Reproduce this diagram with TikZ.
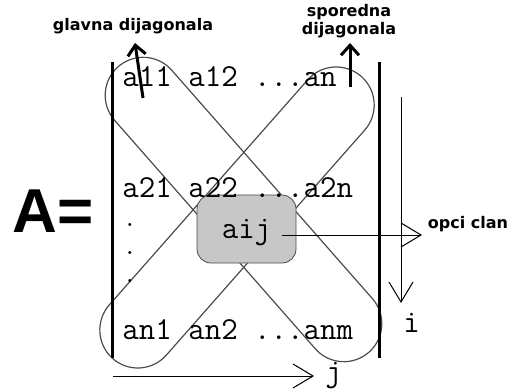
\documentclass[tikz,border=0pt]{standalone}
\usepackage{fontspec}
\newfontfamily\tagfont{DejaVu Sans}
\newfontfamily\bigfont{Liberation Sans}
\usetikzlibrary{arrows.meta,shapes.misc}
\newcommand{\mentry}[4]{\node[entry] (#1) at (#2,#3) {#4};}
\newcommand{\mtag}[4]{\node[tag] (#1) at (#2,#3) {#4};}

\begin{document}
\begin{tikzpicture}[x=0.5pt,y=-0.5pt,
  entry/.style={anchor=base west,inner sep=0pt,font=\ttfamily\fontsize{16}{18}\selectfont},
  tag/.style={inner sep=0pt,align=center,font=\tagfont\bfseries\fontsize{8}{7}\selectfont},
  band/.style={draw=black!70,line width=0.6pt,rounded rectangle,minimum width=190pt,minimum height=38pt,inner sep=0pt},
  bar/.style={line width=1.5pt},
  barb/.style={-{Straight Barb[length=10pt,width=12pt]},line width=0.5pt},
  uparrow/.style={-{Straight Barb[length=5pt,width=9pt]},line width=1.5pt}]
\useasboundingbox (0,0) rectangle (512,389);
% ---- diagonal bands
\node[band,rotate=-48.7] (glavnaband) at (243.5,209.5) {};
\node[band,rotate=48.6,minimum width=188pt] (sporednaband) at (237,217.5) {};

% ---- general element
\node[draw=black!70,fill=black!22,rounded corners=7pt,minimum width=49.5pt,minimum height=34pt,
      text depth=0pt,font=\ttfamily\fontsize{16}{18}\selectfont] (aij) at (246.5,229) {aij};

% ---- matrix entries
\node[anchor=base west,inner sep=0pt,font=\bigfont\bfseries\fontsize{31}{31}\selectfont] (A) at (12,233) {A=};
\mentry{r1}{122}{87}{a11 a12 ...an}
\mentry{r2}{122}{198}{a21 a22 ...a2n}
\node[inner sep=0pt,align=center,font=\ttfamily\bfseries\fontsize{11}{14}\selectfont] (vdots) at (130,253) {.\\.\\.};
\mentry{rn}{122}{339}{an1 an2 ...anm}
\mentry{ilab}{403}{332}{i}
\mentry{jlab}{325}{381}{j}

% ---- labels
\mtag{glavna}{133}{26}{glavna dijagonala}
\mtag{sporedna}{349}{21}{sporedna\\dijagonala}
\mtag{opci}{468}{224}{opci clan}

% ---- bars
\coordinate (ltop) at (112,62);
\coordinate (lbot) at (112,358);
\coordinate (rtop) at (379,62);
\coordinate (rbot) at (379,358);
\draw[bar] (ltop) -- (lbot);
\draw[bar] (rtop) -- (rbot);

% ---- arrows
\coordinate (gtail) at (143,98);
\coordinate (ghead) at (135,43);
\coordinate (stail) at (350,87);
\coordinate (shead) at (350,43);
\coordinate (itop) at (401,97);
\coordinate (ibot) at (401,303);
\coordinate (jleft) at (113,376);
\coordinate (jright) at (314,376);
\coordinate (ostart) at (282,235);
\coordinate (otip) at (422,235);
\draw[uparrow] (gtail) -- (ghead);
\draw[uparrow] (stail) -- (shead);
\draw[barb] (itop) -- (ibot);
\draw[barb] (jleft) -- (jright);
\draw[barb] (ostart) -- (otip);
\end{tikzpicture}
\end{document}
